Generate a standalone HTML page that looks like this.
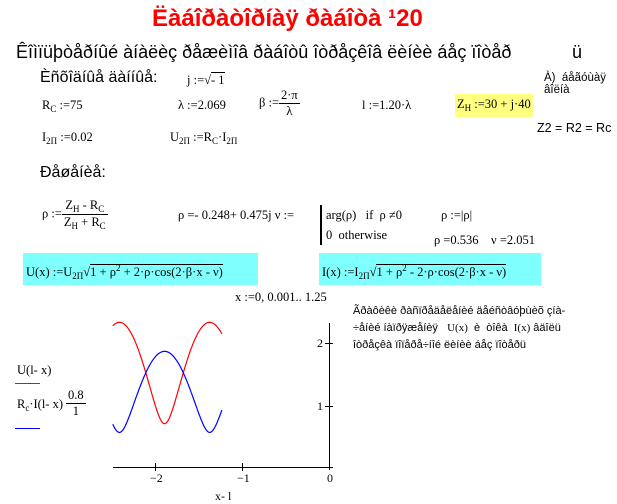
<!DOCTYPE html>
<html><head><meta charset="utf-8"><style>
body{margin:0;width:617px;height:504px;background:#fff;position:relative;overflow:hidden;font-family:"Liberation Serif",serif;font-size:12.5px;color:#000}
.a{position:absolute;white-space:nowrap}
.s{font-family:"Liberation Sans",sans-serif}
sub{font-size:9px;vertical-align:-3px}
sup{font-size:9px}
.fr{display:inline-block;vertical-align:middle;text-align:center}
.fr span{display:block;padding:0 2px}
.fr span+span{border-top:1px solid #000}
</style></head><body>
<div class="a s" style="left:152px;top:5px;font-size:24px;font-weight:bold;color:#f00">Ëàáîðàòîðíàÿ ðàáîòà ¹20</div>
<div class="a s" style="left:16px;top:42px;font-size:18px">Êîìïüþòåðíûé àíàëèç ðåæèìîâ ðàáîòû îòðåçêîâ ëèíèè áåç ïîòåð</div>
<div class="a s" style="left:572px;top:42px;font-size:18px">ü</div>
<div class="a s" style="left:40px;top:69px;font-size:16px">Èñõîäíûå äàííûå:</div>
<div class="a" style="left:187px;top:73px">j :=√<span style="border-top:1px solid #000">- 1</span></div>
<div class="a s" style="left:544px;top:72px;font-size:11.5px">À)&nbsp; áåãóùàÿ<br>âîëíà</div>
<div class="a" style="left:42px;top:98px">R<sub>C</sub> :=75</div>
<div class="a" style="left:178px;top:98px">λ :=2.069</div>
<div class="a" style="left:259px;top:88px">β :=<span class="fr"><span>2·π</span><span>λ</span></span></div>
<div class="a" style="left:362px;top:98px">l :=1.20·λ</div>
<div class="a" style="left:455px;top:94px;background:#ffff80;padding:3px 2px 4px">Z<sub>H</sub> :=30 + j·40</div>
<div class="a s" style="left:537px;top:121px;font-size:12.5px">Z2 = R2 = Rc</div>
<div class="a" style="left:42px;top:130px">I<sub>2П</sub> :=0.02</div>
<div class="a" style="left:170px;top:130px">U<sub>2П</sub> :=R<sub>C</sub>·I<sub>2П</sub></div>
<div class="a s" style="left:40px;top:164px;font-size:16px">Ðåøåíèå:</div>
<div class="a" style="left:42px;top:198px">ρ :=<span class="fr"><span>Z<sub>H</sub> - R<sub>C</sub></span><span>Z<sub>H</sub> + R<sub>C</sub></span></span></div>
<div class="a" style="left:178px;top:208px">ρ =- 0.248+ 0.475j ν :=</div>
<div class="a" style="left:320px;top:205px;border-left:2px solid #000;height:40px;padding-left:4px;line-height:20px">arg(ρ)&nbsp;&nbsp; if&nbsp; ρ ≠0<br>0&nbsp; otherwise</div>
<div class="a" style="left:441px;top:208px">ρ :=|ρ|</div>
<div class="a" style="left:434px;top:233px">ρ =0.536 &nbsp;&nbsp; ν =2.051</div>
<div class="a" style="left:23px;top:253px;width:235px;height:32px;background:#80ffff"></div>
<div class="a" style="left:26px;top:263px">U(x) :=U<sub>2П</sub>√<span style="border-top:1px solid #000">1 + ρ<sup>2</sup> + 2·ρ·cos(2·β·x - ν)</span></div>
<div class="a" style="left:319px;top:253px;width:222px;height:32px;background:#80ffff"></div>
<div class="a" style="left:322px;top:263px">I(x) :=I<sub>2П</sub>√<span style="border-top:1px solid #000">1 + ρ<sup>2</sup> - 2·ρ·cos(2·β·x - ν)</span></div>
<div class="a" style="left:235px;top:290px">x :=0, 0.001.. 1.25</div>
<div class="a s" style="left:353px;top:303px;font-size:11px;line-height:17px">Ãðàôèêè ðàñïðåäåëåíèé äåéñòâóþùèõ çíà-<br>÷åíèé íàïðÿæåíèÿ &nbsp;&nbsp;<span style="font-family:'Liberation Serif'">U(x)</span>&nbsp; è&nbsp; òîêà&nbsp; <span style="font-family:'Liberation Serif'">I(x)</span> âäîëü<br>îòðåçêà ïîïåðå÷íîé ëèíèè áåç ïîòåðü</div>
<div class="a" style="left:17px;top:363px">U(l- x)</div>
<div class="a" style="left:15px;top:383px;width:25px;border-top:1px solid #f00"></div>
<div class="a" style="left:17px;top:397px">R<sub>c</sub>·I(l- x)</div>
<div class="a" style="left:66px;top:388px"><span class="fr"><span>0.8</span><span>1</span></span></div>
<div class="a" style="left:15px;top:428px;width:25px;border-top:1px solid #00f"></div>
<svg class="a" style="left:0;top:0" width="617" height="504">
<g stroke="#000" stroke-width="1" fill="none">
<line x1="113" y1="467.5" x2="333" y2="467.5"/>
<line x1="329.5" y1="323" x2="329.5" y2="470"/>
<line x1="155.5" y1="463" x2="155.5" y2="471"/>
<line x1="242.5" y1="463" x2="242.5" y2="471"/>
<line x1="325" y1="343.5" x2="333" y2="343.5"/>
<line x1="325" y1="406.5" x2="333" y2="406.5"/>
</g>
<path id="pu" fill="none" stroke="#f00" stroke-width="1.2"/>
<path id="pi" fill="none" stroke="#00f" stroke-width="1.2"/>
<g font-family="Liberation Serif" font-size="12">
<text x="150" y="482">−2</text><text x="237" y="482">−1</text><text x="327" y="482">0</text>
<text x="317" y="347">2</text><text x="317" y="410">1</text>
<text x="215" y="500">x- l</text>
</g>
</svg>
<script>
var b=2*Math.PI/2.069,n=2.051,r=0.536,l=1.2*2.069,du="",di="";
function X(a){return 329.5+a*87.3}function Y(v){return 467.5-v*63}
for(var i=0;i<=250;i++){var x=i*0.005,t=l-x,c=Math.cos(2*b*t-n);
var u=1.5*Math.sqrt(1+r*r+2*r*c),ii=1.2*Math.sqrt(1+r*r-2*r*c),a=x-l;
du+=(i?"L":"M")+X(a).toFixed(1)+","+Y(u).toFixed(1);di+=(i?"L":"M")+X(a).toFixed(1)+","+Y(ii).toFixed(1);}
document.getElementById("pu").setAttribute("d",du);document.getElementById("pi").setAttribute("d",di);
</script>
</body></html>
